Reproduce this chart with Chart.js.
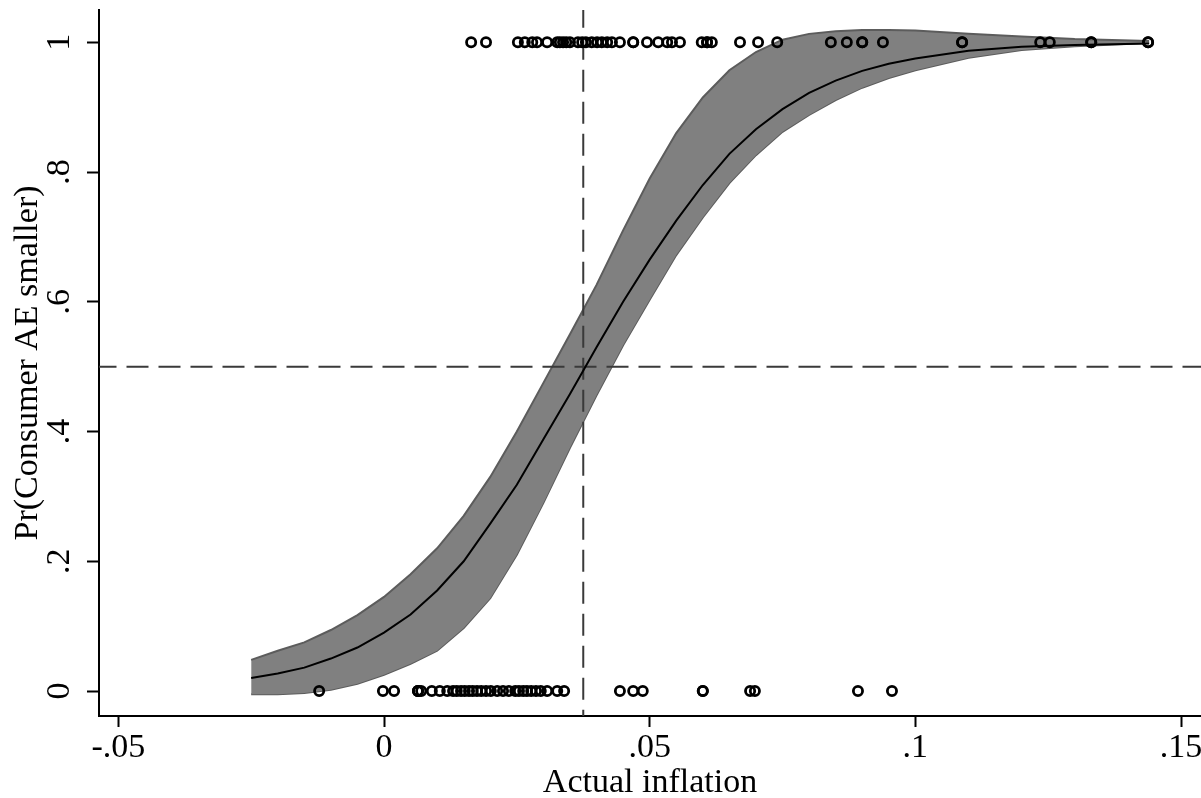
<!DOCTYPE html>
<html><head><meta charset="utf-8">
<script src="https://cdn.jsdelivr.net/npm/chart.js@4"></script>
<style>html,body{margin:0;padding:0;background:#fff;}canvas{display:block;}</style>
</head><body>
<canvas id="c" width="1201" height="798"></canvas>
<script>
// ---- data ----
const fitX = [-0.025,-0.02,-0.015,-0.01,-0.005,0,0.005,0.01,0.015,0.02,0.025,0.03,0.035,0.04,0.045,0.05,0.055,0.06,0.065,0.07,0.075,0.08,0.085,0.09,0.095,0.1,0.11,0.12,0.13,0.144];
const fitY = [0.020,0.027,0.036,0.050,0.067,0.090,0.118,0.155,0.20,0.258,0.318,0.388,0.458,0.53,0.60,0.665,0.725,0.78,0.828,0.866,0.897,0.922,0.941,0.956,0.967,0.975,0.987,0.993,0.996,0.998];
const ciHigh = [0.048,0.062,0.075,0.094,0.117,0.145,0.18,0.22,0.27,0.33,0.40,0.475,0.55,0.626,0.71,0.79,0.86,0.915,0.957,0.985,1.004,1.013,1.017,1.019,1.019,1.018,1.013,1.009,1.005,1.002];
const ciLow = [-0.005,-0.005,-0.003,0.002,0.011,0.025,0.042,0.062,0.097,0.143,0.21,0.29,0.375,0.456,0.533,0.603,0.672,0.73,0.783,0.826,0.862,0.888,0.911,0.93,0.945,0.957,0.976,0.988,0.994,0.999];
const obsX1 = [0.0164,0.0192,0.0252,0.0265,0.0279,0.0288,0.0307,0.0326,0.0331,0.0337,0.0343,0.0350,0.0365,0.0373,0.0380,0.0391,0.0401,0.0410,0.0420,0.0429,0.0444,0.0469,0.0469,0.0495,0.0516,0.0533,0.0542,0.0557,0.0598,0.0608,0.0608,0.0617,0.0670,0.0704,0.0740,0.0841,0.0871,0.0900,0.0900,0.0939,0.1088,0.1088,0.1235,0.1253,0.1331,0.1331,0.1438,0.1438];
const obsX0 = [-0.0122,-0.0002,0.0019,0.0064,0.0064,0.0064,0.0070,0.0090,0.0105,0.0119,0.0130,0.0137,0.0145,0.0152,0.0160,0.0167,0.0175,0.0183,0.0192,0.0201,0.0213,0.0224,0.0235,0.0247,0.0254,0.0262,0.0269,0.0277,0.0286,0.0295,0.0307,0.0326,0.0339,0.0444,0.0469,0.0487,0.0600,0.0600,0.0689,0.0698,0.0892,0.0956];
const xTickValues = [-0.05,0,0.05,0.1,0.15];
const xTickLabels = ['-.05','0','.05','.1','.15'];
const yTickValues = [0,0.2,0.4,0.6,0.8,1];
const yTickLabels = ['0','.2','.4','.6','.8','1'];
const refLineY = 0.5;
const refLineX = 0.0375;
const xTitle = 'Actual inflation';
const yTitle = 'Pr(Consumer AE smaller)';

// ---- view settings (target pixel mapping of the reference) ----
const X_ZERO_PX = 384, X_PX_PER_UNIT = 5313.5;
const Y_ZERO_PX = 691, Y_PX_PER_UNIT = 648.7;
let X_MIN = -0.05363, X_MAX = 0.15376, Y_MIN = -0.0385, Y_MAX = 1.0498;
const FONT = '"Liberation Serif", "Times New Roman", serif';
const FS = 34;

const pts = (xs, ys) => xs.map((x, i) => ({x, y: ys[i]}));
const flat = (xs, v) => xs.map(x => ({x, y: v}));

const yLabelPlugin = {
  id: 'yLabels',
  afterDraw(chart) {
    const s = chart.scales.y, ctx = chart.ctx;
    ctx.save();
    ctx.fillStyle = '#000';
    ctx.font = FS + 'px ' + FONT;
    ctx.textAlign = 'center';
    ctx.textBaseline = 'middle';
    yTickValues.forEach((v, i) => {
      ctx.save();
      ctx.translate(60, s.getPixelForValue(v));
      ctx.rotate(-Math.PI / 2);
      ctx.fillText(yTickLabels[i], 0, 0);
      ctx.restore();
    });
    ctx.restore();
  }
};

const ptStyle = { showLine: false, pointStyle: 'circle', pointRadius: 4.6, pointBorderWidth: 2.8, pointBorderColor: '#000', pointBackgroundColor: 'rgba(0,0,0,0)', order: 0 };

const chart = new Chart(document.getElementById('c'), {
  type: 'scatter',
  data: {
    datasets: [
      Object.assign({ label: 'obs1', data: flat(obsX1, 1) }, ptStyle),
      Object.assign({ label: 'obs0', data: flat(obsX0, 0) }, ptStyle),
      { label: 'fit', data: pts(fitX, fitY), showLine: true, borderColor: '#000', borderWidth: 2, pointRadius: 0, tension: 0, fill: false, order: 1 },
      { label: 'hline', data: [{x: -1, y: refLineY}, {x: 1, y: refLineY}], showLine: true, borderColor: '#3a3a3a', borderWidth: 2, borderDash: [22, 10], pointRadius: 0, fill: false, order: 2 },
      { label: 'vline', data: [{x: refLineX, y: -1}, {x: refLineX, y: 2}], showLine: true, borderColor: '#3a3a3a', borderWidth: 2, borderDash: [22, 10], pointRadius: 0, fill: false, order: 2 },
      { label: 'ciLow', data: pts(fitX, ciLow), showLine: true, borderColor: '#5c5c5c', borderWidth: 2, pointRadius: 0, tension: 0, fill: false, order: 4 },
      { label: 'ciHigh', data: pts(fitX, ciHigh), showLine: true, borderColor: '#5c5c5c', borderWidth: 2, pointRadius: 0, tension: 0, fill: '-1', backgroundColor: '#808080', order: 3 }
    ]
  },
  options: {
    responsive: false,
    animation: false,
    devicePixelRatio: 1,
    layout: { autoPadding: false, padding: { top: 10, left: 0, right: 0, bottom: 0 } },
    plugins: { legend: { display: false }, tooltip: { enabled: false } },
    scales: {
      x: {
        type: 'linear', position: 'bottom', min: X_MIN, max: X_MAX,
        afterBuildTicks: s => { s.ticks = xTickValues.map(v => ({value: v})); },
        afterFit: s => { s.height = 82; s.paddingLeft = 0; s.paddingRight = 0; },
        ticks: { callback: (v) => xTickLabels[xTickValues.indexOf(v)], color: '#000', font: { family: FONT, size: FS }, padding: 1, maxRotation: 0, minRotation: 0, autoSkip: false },
        grid: { display: true, drawOnChartArea: false, drawTicks: true, tickLength: 11, tickColor: '#000', tickWidth: 2, color: '#000' },
        border: { display: true, color: '#000', width: 2 },
        title: { display: true, text: xTitle, color: '#000', font: { family: FONT, size: FS, lineHeight: 0.9 }, padding: { top: 0, bottom: 0 } }
      },
      y: {
        type: 'linear', position: 'left', min: Y_MIN, max: Y_MAX,
        afterBuildTicks: s => { s.ticks = yTickValues.map(v => ({value: v})); },
        afterFit: s => { s.width = 99; s.paddingTop = 0; s.paddingBottom = 0; },
        ticks: { display: false },
        grid: { display: true, drawOnChartArea: false, drawTicks: true, tickLength: 12, tickColor: '#000', tickWidth: 2, color: '#000' },
        border: { display: true, color: '#000', width: 2 },
        title: { display: true, text: yTitle, color: '#000', font: { family: FONT, size: FS, lineHeight: 1 }, padding: { top: 11, bottom: 0 } }
      }
    }
  },
  plugins: [yLabelPlugin]
});

// align the scale ranges with the reference's pixel mapping, given the real chart area
const ca = chart.chartArea;
chart.options.scales.x.min = (ca.left - X_ZERO_PX) / X_PX_PER_UNIT;
chart.options.scales.x.max = (ca.right - X_ZERO_PX) / X_PX_PER_UNIT;
chart.options.scales.y.max = (Y_ZERO_PX - ca.top) / Y_PX_PER_UNIT;
chart.options.scales.y.min = (Y_ZERO_PX - ca.bottom) / Y_PX_PER_UNIT;
chart.update();
</script>
</body></html>
